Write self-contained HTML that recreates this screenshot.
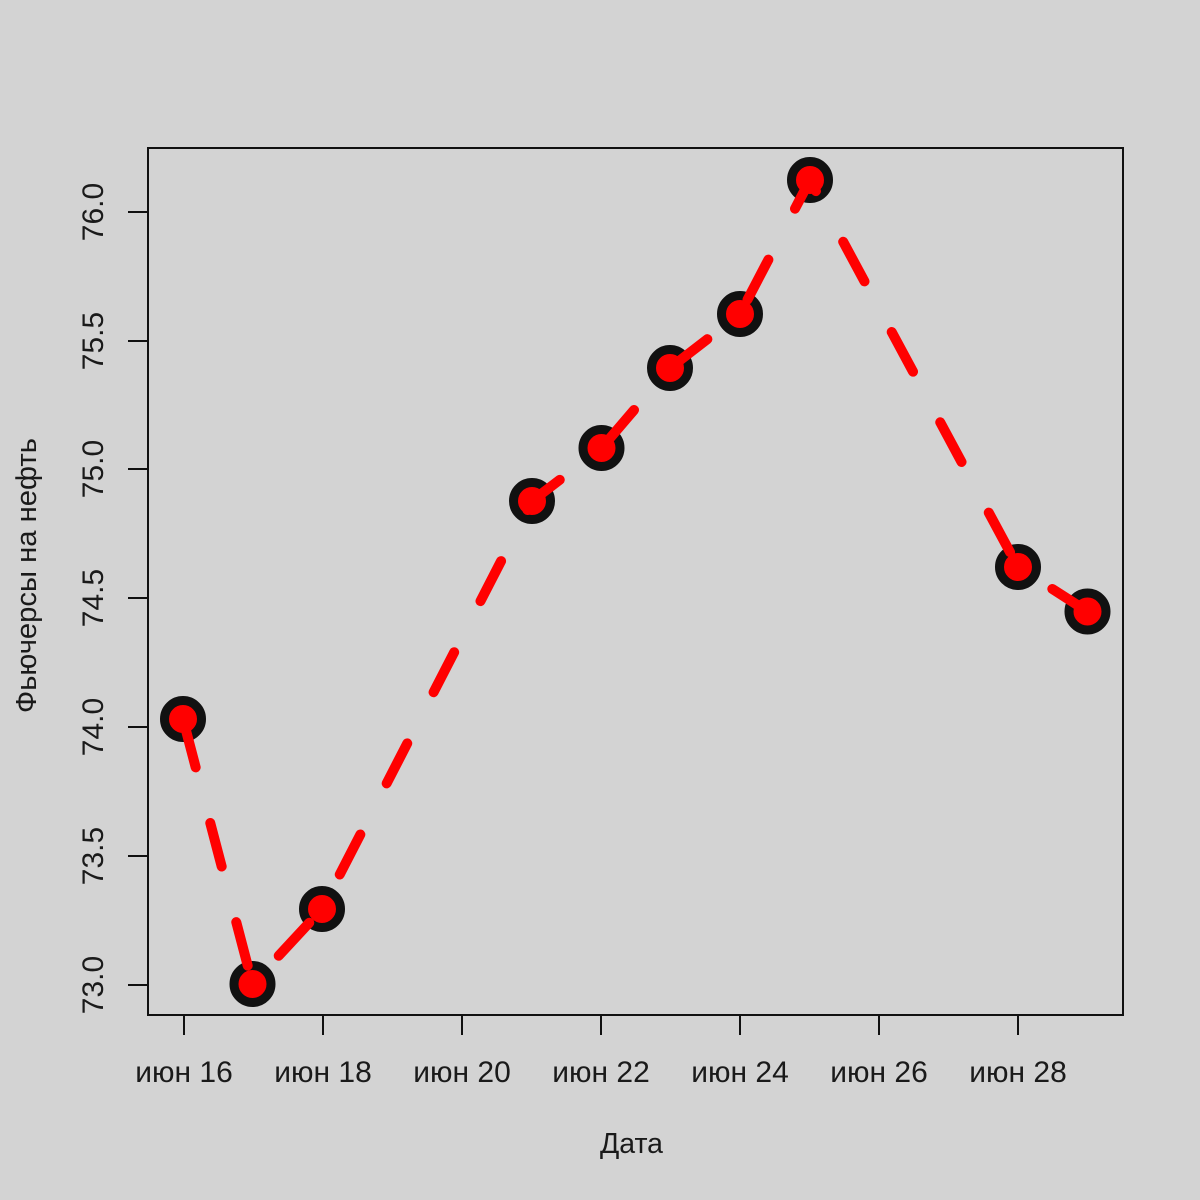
<!DOCTYPE html>
<html>
<head>
<meta charset="utf-8">
<style>
  html, body { margin: 0; padding: 0; background: #d3d3d3; }
  svg { display: block; }
  text { font-family: "Liberation Sans", "Noto Sans CJK SC", sans-serif; fill: #1a1a1a; }
</style>
</head>
<body>
<svg width="1200" height="1200" viewBox="0 0 1200 1200" xmlns="http://www.w3.org/2000/svg">
  <rect x="0" y="0" width="1200" height="1200" fill="#d3d3d3"/>

  <!-- plot frame -->
  <rect x="148" y="148" width="975" height="867" fill="none" stroke="#111" stroke-width="2"/>

  <!-- x ticks -->
  <g stroke="#111" stroke-width="2">
    <line x1="184" y1="1015" x2="184" y2="1035"/>
    <line x1="323" y1="1015" x2="323" y2="1035"/>
    <line x1="462" y1="1015" x2="462" y2="1035"/>
    <line x1="601" y1="1015" x2="601" y2="1035"/>
    <line x1="740" y1="1015" x2="740" y2="1035"/>
    <line x1="879" y1="1015" x2="879" y2="1035"/>
    <line x1="1018" y1="1015" x2="1018" y2="1035"/>
  </g>
  <!-- y ticks -->
  <g stroke="#111" stroke-width="2">
    <line x1="128" y1="985" x2="148" y2="985"/>
    <line x1="128" y1="856" x2="148" y2="856"/>
    <line x1="128" y1="727" x2="148" y2="727"/>
    <line x1="128" y1="598" x2="148" y2="598"/>
    <line x1="128" y1="469" x2="148" y2="469"/>
    <line x1="128" y1="341" x2="148" y2="341"/>
    <line x1="128" y1="212" x2="148" y2="212"/>
  </g>

  <!-- x tick labels -->
  <g font-size="30" text-anchor="middle">
    <text x="184" y="1082">июн 16</text>
    <text x="323" y="1082">июн 18</text>
    <text x="462" y="1082">июн 20</text>
    <text x="601" y="1082">июн 22</text>
    <text x="740" y="1082">июн 24</text>
    <text x="879" y="1082">июн 26</text>
    <text x="1018" y="1082">июн 28</text>
  </g>

  <!-- y tick labels (rotated) -->
  <g font-size="30" text-anchor="middle">
    <text transform="translate(103,985) rotate(-90)">73.0</text>
    <text transform="translate(103,856) rotate(-90)">73.5</text>
    <text transform="translate(103,727) rotate(-90)">74.0</text>
    <text transform="translate(103,598) rotate(-90)">74.5</text>
    <text transform="translate(103,469) rotate(-90)">75.0</text>
    <text transform="translate(103,341) rotate(-90)">75.5</text>
    <text transform="translate(103,212) rotate(-90)">76.0</text>
  </g>

  <!-- axis titles -->
  <text x="631.5" y="1153" font-size="29" text-anchor="middle" textLength="63" lengthAdjust="spacingAndGlyphs">Дата</text>
  <text transform="translate(36,575.5) rotate(-90)" font-size="29" text-anchor="middle" textLength="275" lengthAdjust="spacingAndGlyphs">Фьючерсы на нефть</text>

  <!-- markers -->
  <g fill="#ff0000" stroke="#111" stroke-width="9">
    <circle cx="183" cy="719" r="18.5"/>
    <circle cx="252.5" cy="984" r="18.5"/>
    <circle cx="322" cy="909" r="18.5"/>
    <circle cx="532" cy="501" r="18.5"/>
    <circle cx="601.5" cy="448" r="18.5"/>
    <circle cx="670" cy="368" r="18.5"/>
    <circle cx="740" cy="314" r="18.5"/>
    <circle cx="810" cy="180" r="18.5"/>
    <circle cx="1018" cy="567" r="18.5"/>
    <circle cx="1087.5" cy="611.5" r="18.5"/>
  </g>

  <!-- dashed red line on top -->
  <path d="M183,719 L252.5,984 L322,909 L532,501 L601.5,448 L670,368 L740,314 L810,180 L1018,567 L1087.5,611.5"
        fill="none" stroke="#ff0000" stroke-width="10" stroke-linecap="round" stroke-linejoin="round"
        stroke-dasharray="45 57.5" stroke-dashoffset="97.5"/>
</svg>
</body>
</html>
